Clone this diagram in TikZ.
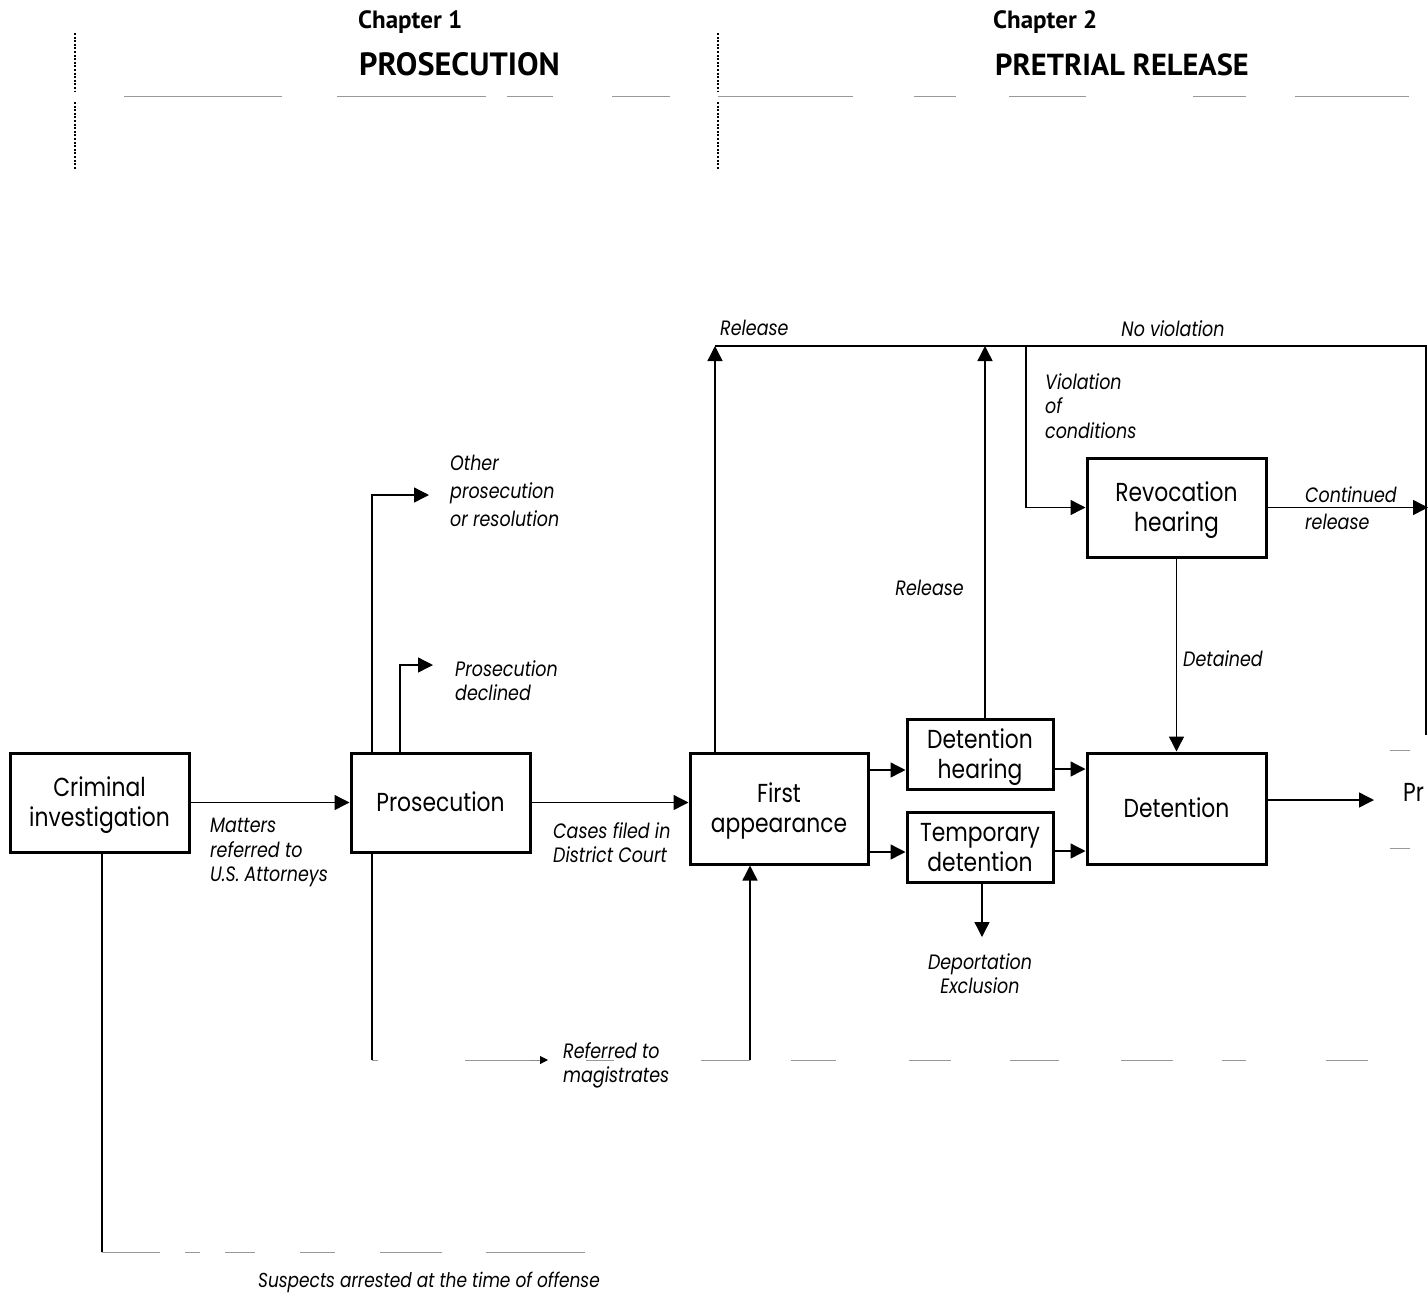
\documentclass[tikz,border=0pt]{standalone}
\usepackage{fontspec}
\setmainfont{Poppins}[FakeStretch=0.84]
\newfontfamily\headfont{PT Sans}
\usetikzlibrary{arrows.meta}
% box captions: centred lines, set a little below the geometric centre
\newcommand\boxlines[1]{\raisebox{-3pt}[\height][\depth]{\begin{tabular}{@{}c@{}}#1\end{tabular}}}

\begin{document}
\begin{tikzpicture}[x=1pt,y=-1pt,
  every node/.style={inner sep=0pt},
  box/.style={draw, line width=3pt, font=\fontsize{26}{30}\selectfont},
  link/.style={line width=1.4pt, -{Triangle[length=15pt,width=15pt]}},
  smalltip/.style={line width=1pt, draw=black!45, -{Triangle[length=8pt,width=8pt,color=black]}},
  wire/.style={line width=1.4pt},
  lbl/.style={font=\fontsize{20.8}{24.5}\selectfont\itshape, align=left},
  rule/.style={draw=black!40, line width=1pt},
  guide/.style={line width=1.3pt, dash pattern=on 2pt off 1.6pt},
  head/.style={font=\headfont\bfseries\fontsize{#1}{#1}\selectfont},
]
\fill[white] (0,0) rectangle (1428,1294);
\useasboundingbox (0,0) rectangle (1428,1294);

% ---------- chapter headings ----------
\node[head=25, anchor=base west] (ch1) at (358,28) {Chapter 1};
\node[head=32.2, anchor=base west] (t1) at (359,75) {PROSECUTION};
\node[head=25, anchor=base west] (ch2) at (993,28) {Chapter 2};
\node[head=30.4, anchor=base west] (t2) at (995,75) {PRETRIAL RELEASE};

% column separators
\draw[guide] (75,33) -- (75,92) (75,102) -- (75,170);
\draw[guide] (718,33) -- (718,92) (718,102) -- (718,170);
% faint heading rule
\foreach \a/\b in {124/282,337/486,507/553,612/670,718/853,914/956,1009/1086,1193/1246,1295/1409}
  \draw[rule] (\a,96) -- (\b,96);

% ---------- boxes ----------
\node[box, minimum width=179pt, minimum height=99pt]  (ci)  at (99.5,802.5)  {\boxlines{Criminal\\investigation}};
\node[box, minimum width=179pt, minimum height=99pt]  (pr)  at (440.5,802.5) {\boxlines{Prosecution}};
\node[box, minimum width=178pt, minimum height=111pt] (fa)  at (779,808.5)   {\boxlines{First\\appearance}};
\node[box, minimum width=146pt, minimum height=70pt]  (dh)  at (980,754)     {\boxlines{Detention\\hearing}};
\node[box, minimum width=146pt, minimum height=70pt]  (td)  at (980,847)     {\boxlines{Temporary\\detention}};
\node[box, minimum width=179pt, minimum height=111pt] (det) at (1176.5,808.5) {\boxlines{Detention}};
\node[box, minimum width=179pt, minimum height=99pt]  (rev) at (1176.5,507.5) {\boxlines{Revocation\\hearing}};
\node[font=\fontsize{26}{30}\selectfont, anchor=west] (nxt) at (1403,792) {Pr};

% ---------- free ends and corners ----------
\coordinate (op)   at (429,495);
\coordinate (pd)   at (433,665);
\coordinate (mg)   at (372,1060);
\coordinate (mgt)  at (548,1060);
\coordinate (fain) at (750,1060);
\coordinate (rel1) at (715,346);
\coordinate (rel2) at (985,346);
\coordinate (vio)  at (1026,346);
\coordinate (tr)   at (1426,346);
\coordinate (br)   at (1426,735);
\coordinate (cont) at (1428,510);
\coordinate (dep)  at (982,937);
\coordinate (pn)   at (1374,800);
\coordinate (sus)  at (102,1252);

% ---------- prosecution ----------
\draw[link] (ci.east) -- (pr.west);
\draw[link] (pr.east) -- (fa.west |- pr.east);
\draw[link] (pr.north -| 372,0) |- (op);
\draw[link] (pr.north -| 400,0) |- (pd);
\draw[wire] (pr.south -| mg) -- (mg);
\draw[smalltip] (530,1060) -- (mgt);
\draw[link] (fain) -- (fa.south -| fain);
\draw[wire] (ci.south -| sus) -- (sus);

% ---------- pretrial release ----------
\draw[link] (fa.north -| rel1) -- (rel1);
\draw[link] (dh.north -| rel2) -- (rel2);
\draw[wire] (rel1) -- (tr) -- (br);
\draw[link] (vio) |- (rev.west);
\draw[link] (rev.east) -- (rev.east -| cont);
\draw[link] (rev.south) -- (det.north);
\draw[link] (fa.east |- 0,770) -- (dh.west |- 0,770);
\draw[link] (fa.east |- 0,852) -- (td.west |- 0,852);
\draw[link] (dh.east |- 0,769) -- (det.west |- 0,769);
\draw[link] (td.east |- 0,851) -- (det.west |- 0,851);
\draw[link] (td.south -| dep) -- (dep);
\draw[link] (det.east |- pn) -- (pn);

% faint broken rules along the lower paths
\foreach \a/\b in {372/378,465/530,586/614,701/750,791/836,909/951,1010/1059,1121/1173,1222/1246,1326/1368}
  \draw[rule] (\a,1060) -- (\b,1060);
\foreach \a/\b in {102/160,185/200,225/255,300/335,380/442,486/585}
  \draw[rule] (\a,1252) -- (\b,1252);
\draw[rule] (1390,750) -- (1410,750) (1390,848) -- (1410,848);

% ---------- labels ----------
\node[lbl, anchor=north west] (l1) at (210,818) {Matters\\referred to\\U.S. Attorneys};
\node[lbl, anchor=north west] (l2) at (553,822) {Cases filed in\\District Court};
\node[lbl, anchor=north west] (l3) at (450,455) {Other\\[3.5pt]prosecution\\[3.5pt]or resolution};
\node[lbl, anchor=north west] (l4) at (455,660) {Prosecution\\declined};
\node[lbl, anchor=north west] (l5) at (563,1042) {Referred to\\magistrates};
\node[lbl, font=\fontsize{20.2}{24}\selectfont\itshape, anchor=north] (l6) at (429,1272) {Suspects arrested at the time of offense};
\node[lbl, anchor=north west] (l7) at (720,320) {Release};
\node[lbl, anchor=north] (l8) at (1173,320) {No violation};
\node[lbl, anchor=north west] (l9) at (1045,373) {Violation\\of\\conditions};
\node[lbl, anchor=north east] (l10) at (964,580) {Release};
\node[lbl, anchor=north west] (l11) at (1305,486) {Continued\\[2.5pt]release};
\node[lbl, anchor=north west] (l12) at (1183,650) {Detained};
\node[lbl, anchor=north, align=center] (l13) at (980,953) {Deportation\\Exclusion};
\end{tikzpicture}
\end{document}
